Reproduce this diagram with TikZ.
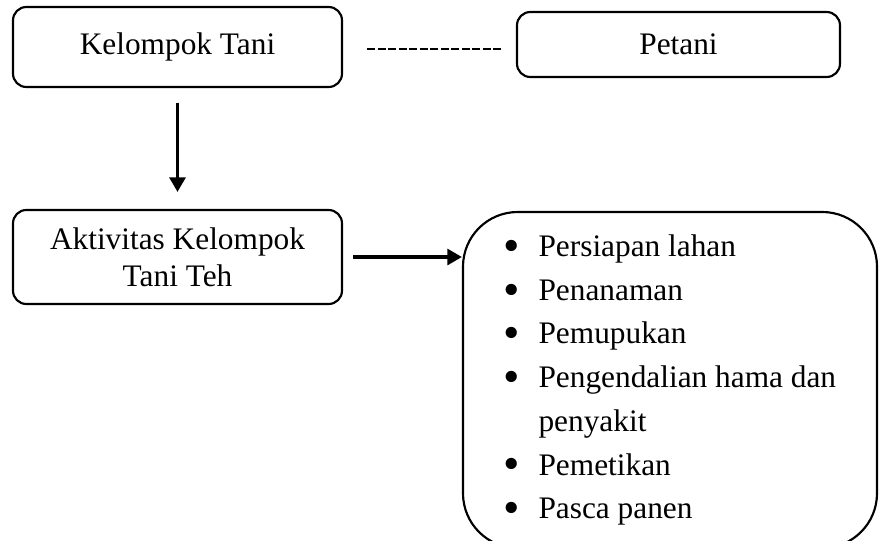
\documentclass[tikz,border=0pt]{standalone}
\usepackage{fontspec}
\setmainfont{Liberation Serif}
\usetikzlibrary{arrows.meta, positioning}
\newcommand{\listdot}{\makebox[26pt][l]{\raisebox{-3.7pt}{\scalebox{1.5}{\textbullet}}}}

\begin{document}
\begin{tikzpicture}[x=0.75pt, y=-0.75pt, >={Triangle[length=11pt, width=12pt]},
    every node/.style={align=center, font=\fontsize{23.5}{27.75}\selectfont},
    box/.style={draw, line width=1.6pt, rounded corners=10pt, inner sep=0pt},
    flow/.style={->, line width=2.4pt},
    hyph/.style={line width=1.5pt, dash pattern=on 6pt off 1.9pt}]
      \clip (0,0) rectangle (879,540);
      \node[box, minimum width=246.75pt, minimum height=60pt] (kt) at (177.5,47) {Kelompok Tani};
      \node[box, minimum width=242.25pt, minimum height=48.75pt] (pt) at (678.5,44.5) {Petani};
      \node[box, minimum width=246.75pt, minimum height=70.5pt] (akt) at (177.5,257) {Aktivitas Kelompok\\Tani Teh};
      \node[box, rounded corners=41pt, minimum width=310.5pt, minimum height=252pt,
            align=left, font=\fontsize{23.5}{32.8}\selectfont] (keg) at (670,380) {%
        \listdot Persiapan lahan\\
        \listdot Penanaman\\
        \listdot Pemupukan\\
        \listdot Pengendalian hama dan\\
        \hspace*{26pt}penyakit\\
        \listdot Pemetikan\\
        \listdot Pasca panen};
      \draw[hyph, shorten <=18pt, shorten >=11.25pt] ([yshift=-1.5pt]kt.east) -- ([yshift=-1.5pt]kt.east -| pt.west);
      \draw[flow, shorten <=11pt, shorten >=12.75pt] (kt.south) -- (akt.north);
      \draw[flow, shorten <=7.5pt] (akt.east) -- (akt.east -| keg.west);
    \end{tikzpicture}
\end{document}
